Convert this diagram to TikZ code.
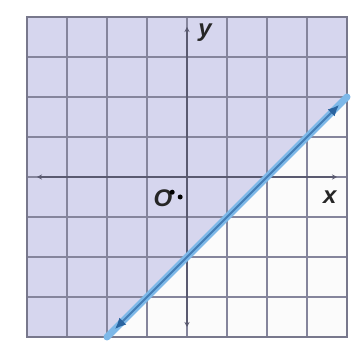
\documentclass[tikz,border=0pt]{standalone}
\usepackage{fontspec}
\setmainfont{Liberation Sans}
\usetikzlibrary{arrows.meta}
\definecolor{lav}{HTML}{D6D6EE}
\definecolor{gridc}{HTML}{85859C}
\definecolor{axisc}{HTML}{5A5A70}
\definecolor{lblue}{HTML}{7DB8E8}
\definecolor{dblue}{HTML}{2A64A0}
\tikzset{
  gridline/.style={draw=gridc, line width=2pt},
  axisline/.style={draw=axisc, line width=1.2pt, {Stealth[length=5pt,width=5pt]}-{Stealth[length=5pt,width=5pt]}},
  halo/.style={draw=lblue, line width=7pt, line cap=round},
  core/.style={draw=dblue!70!lblue, line width=2pt, {Latex[length=11pt,width=10pt,color=dblue]}-{Latex[length=11pt,width=10pt,color=dblue]}},
  lbl/.style={font=\fontsize{24}{26}\selectfont\bfseries\itshape, text=black!85, inner sep=0pt},
  dotmark/.style={circle, fill=black, inner sep=0pt, minimum size=5pt}
}
\begin{document}
\begin{tikzpicture}
\useasboundingbox[fill=white] (0pt,0pt) rectangle (362pt,347pt);
\begin{scope}[shift={(187pt,170pt)}, x=40pt, y=40pt]
  \fill[white!97!gray] (-4,-4) rectangle (4,4);
  \fill[lav] (-4,-4) -- (-2,-4) -- (4,2) -- (4,4) -- (-4,4) -- cycle;
  \foreach \i in {-4,...,4} {
    \draw[gridline] (\i,-4) -- (\i,4);
    \draw[gridline] (-4,\i) -- (4,\i);
  }
  \draw[draw=gridc!90!black, line width=2.4pt] (-4,-4) rectangle (4,4);
  \coordinate (xl) at (-3.75,0);
  \coordinate (xr) at (3.75,0);
  \coordinate (yb) at (0,-3.75);
  \coordinate (yt) at (0,3.75);
  \draw[axisline] (xl) -- (xr);
  \draw[axisline] (yb) -- (yt);
  \coordinate (la) at (-2,-4);
  \coordinate (lb) at (4,2);
  \coordinate (ca) at (-1.8,-3.8);
  \coordinate (cb) at (3.8,1.8);
  \draw[halo] (la) -- (lb);
  \draw[core] (ca) -- (cb);
  \node[lbl] (ylab) at (0.45,3.6) {y};
  \node[lbl] (xlab) at (3.57,-0.5) {x};
  \node[lbl] (olab) at (-0.6,-0.52) {O};
  \node[dotmark] (d1) at (-0.37,-0.38) {};
  \node[dotmark] (d2) at (-0.17,-0.5) {};
\end{scope}
\end{tikzpicture}
\end{document}
